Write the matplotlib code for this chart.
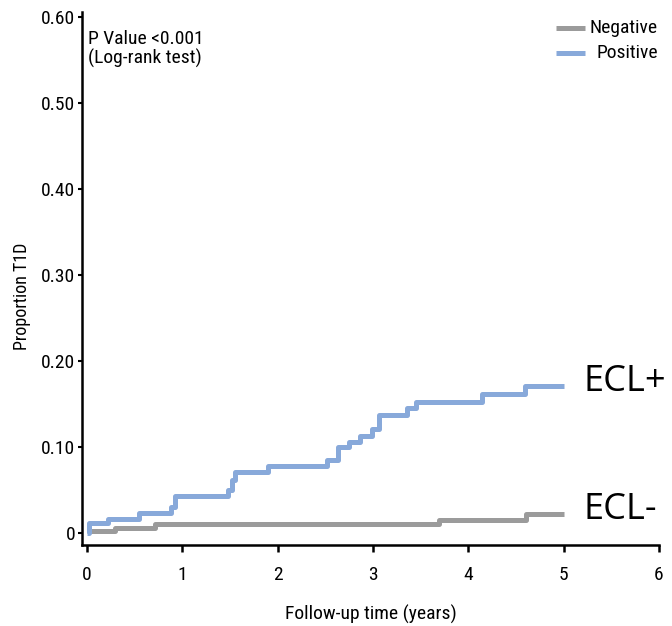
import matplotlib
matplotlib.use("Agg")
import matplotlib.pyplot as plt
from matplotlib.lines import Line2D

# ---- data ----
pos_times = [0.00, 0.02, 0.22, 0.55, 0.88, 0.92, 1.48, 1.52, 1.55, 1.90, 2.52, 2.63, 2.75,
             2.86, 2.99, 3.06, 3.36, 3.45, 4.14, 4.59, 5.00]
pos_vals = [0.000, 0.012, 0.016, 0.023, 0.030, 0.043, 0.050, 0.062, 0.071, 0.078, 0.085, 0.100, 0.106,
            0.113, 0.121, 0.137, 0.145, 0.152, 0.162, 0.171, 0.171]
neg_times = [0.00, 0.30, 0.72, 3.69, 4.61, 5.00]
neg_vals = [0.0025, 0.006, 0.0105, 0.0155, 0.022, 0.022]

xticks = [0, 1, 2, 3, 4, 5, 6]
yticks = [0, 0.10, 0.20, 0.30, 0.40, 0.50, 0.60]
ytick_labels = ["0", "0.10", "0.20", "0.30", "0.40", "0.50", "0.60"]
series_labels = ["Negative", "Positive"]
end_labels = ["ECL-", "ECL+"]

NEG_COLOR = "#9b9b9b"
POS_COLOR = "#88a9da"
NARROW = ["Roboto Condensed", "DejaVu Sans"]
BIG = ["Open Sans", "DejaVu Sans"]

fig = plt.figure(figsize=(6.72, 6.26), dpi=100)
W, H = 672, 626
L, R, T, B = 82, 659, 12, 545
ax = fig.add_axes([L / W, 1 - B / H, (R - L) / W, (B - T) / H])

ax.step(neg_times, neg_vals, where="post", color=NEG_COLOR, lw=3.6, solid_capstyle="butt")
ax.step(pos_times, pos_vals, where="post", color=POS_COLOR, lw=3.6, solid_capstyle="butt")

ax.set_xlim(-0.05, 6.0)
ax.set_ylim(-0.014, 0.6058)

ax.set_xticks(xticks)
ax.set_xticklabels([str(t) for t in xticks], fontsize=14, family=NARROW)
ax.set_yticks(yticks)
ax.set_yticklabels(ytick_labels, fontsize=14, family=NARROW)
ax.tick_params(axis="x", length=5, width=1.8, pad=10, direction="out")
ax.tick_params(axis="y", length=3, width=1.5, pad=2, direction="out")

for s in ["top", "right"]:
    ax.spines[s].set_visible(False)
for s in ["left", "bottom"]:
    ax.spines[s].set_linewidth(1.8)

ax.set_xlabel("Follow-up time (years)", fontsize=14, family=NARROW, labelpad=15)
ax.set_ylabel("Proportion T1D", fontsize=13, family=NARROW)
ax.yaxis.set_label_coords((22 - L) / (R - L), (B - 296) / (B - T))
ax.yaxis.label.set_verticalalignment("center")

ax.text(0.010, 0.966, "P Value <0.001\n(Log-rank test)", transform=ax.transAxes,
        ha="left", va="top", fontsize=14, family=NARROW, linespacing=1.05)

# legend (manual, right-aligned labels)
leg_y = [0.970, 0.923]
for y, lab, c in zip(leg_y, series_labels, [NEG_COLOR, POS_COLOR]):
    ax.add_line(Line2D([0.821, 0.872], [y, y], transform=ax.transAxes, color=c, lw=3.6,
                       solid_capstyle="butt", clip_on=False))
    ax.text(0.998, y, lab, transform=ax.transAxes, ha="right", va="center",
            fontsize=14, family=NARROW)

# end labels
ax.text(5.21, 0.016, end_labels[0], ha="left", va="baseline", fontsize=26,
        family=BIG, clip_on=False)
ax.text(5.21, 0.165, end_labels[1], ha="left", va="baseline", fontsize=26,
        family=BIG, clip_on=False)

fig.savefig("out.png", dpi=100)
